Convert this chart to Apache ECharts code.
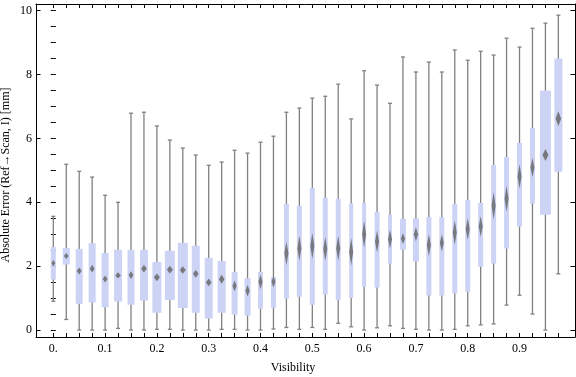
<!DOCTYPE html>
<html>
<head>
<meta charset="utf-8">
<script src="https://cdn.jsdelivr.net/npm/echarts@6/dist/echarts.min.js"></script>
<style>
    html, body { margin: 0; padding: 0; background: #ffffff; }
    #chart { width: 576px; height: 377px; }
</style>
</head>
<body>
<div id="chart"></div>
<script>
// box positions on the Visibility axis (also the tick positions)
const visibility = [0, 0.025, 0.05, 0.075, 0.1, 0.125, 0.15, 0.175, 0.2, 0.225,
    0.25, 0.275, 0.3, 0.325, 0.35, 0.375, 0.4, 0.425, 0.45, 0.475,
    0.5, 0.525, 0.55, 0.575, 0.6, 0.625, 0.65, 0.675, 0.7, 0.725,
    0.75, 0.775, 0.8, 0.825, 0.85, 0.875, 0.9, 0.925, 0.95, 0.975];

const whiskerLow = [0.90, 0.33, 0, 0, 0, 0.05, 0, 0, 0.02, 0.02,
    0, 0, 0, 0.02, 0.02, 0, 0, 0.03, 0.08, 0.02,
    0.08, 0.02, 0.21, 0.10, 0, 0.07, 0.13, 0.05, 0.02, 0,
    0, 0.02, 0.13, 0.16, 0.19, 0.78, 1.09, 0.50, 0, 1.76];

const lowerQuartile = [1.58, 2.05, 0.82, 0.86, 0.71, 0.89, 0.79, 0.92, 0.54, 0.94,
    0.69, 0.54, 0.36, 0.54, 0.48, 0.45, 0.67, 0.70, 0.98, 1.04,
    0.79, 1.11, 0.94, 1.00, 1.35, 1.33, 2.08, 2.52, 2.14, 1.08,
    1.08, 1.15, 1.20, 1.98, 2.08, 2.55, 3.24, 3.96, 3.61, 4.96];

const median = [2.09, 2.32, 1.85, 1.92, 1.60, 1.71, 1.72, 1.92, 1.65, 1.89,
    1.88, 1.76, 1.49, 1.59, 1.38, 1.23, 1.51, 1.51, 2.40, 2.56,
    2.63, 2.54, 2.56, 2.45, 3.00, 2.77, 2.84, 2.86, 3.00, 2.66,
    2.73, 3.05, 3.16, 3.24, 3.89, 4.11, 4.81, 5.09, 5.48, 6.62];

const upperQuartile = [2.60, 2.57, 2.54, 2.72, 2.41, 2.51, 2.51, 2.51, 2.13, 2.48,
    2.73, 2.64, 2.26, 2.16, 1.82, 1.62, 1.82, 1.66, 3.95, 3.89,
    4.45, 4.14, 4.11, 3.97, 3.98, 3.70, 3.61, 3.48, 3.50, 3.54,
    3.54, 3.95, 4.08, 3.98, 5.17, 5.42, 5.86, 6.33, 7.50, 8.50];

const whiskerHigh = [3.56, 5.19, 4.97, 4.79, 4.22, 4.00, 6.79, 6.82, 6.39, 5.95,
    5.70, 5.48, 5.16, 5.26, 5.63, 5.54, 5.88, 6.07, 6.82, 6.95,
    7.26, 7.32, 7.70, 6.61, 8.12, 7.67, 7.10, 8.55, 8.08, 8.39,
    8.08, 8.77, 8.45, 8.73, 8.61, 9.14, 8.86, 9.45, 9.61, 9.86];

// half height of the median diamond (median confidence)
const medianSpread = [0.10, 0.09, 0.11, 0.12, 0.11, 0.10, 0.12, 0.12, 0.12, 0.12,
    0.12, 0.12, 0.12, 0.14, 0.17, 0.18, 0.23, 0.18, 0.37, 0.39,
    0.41, 0.37, 0.39, 0.43, 0.42, 0.34, 0.29, 0.17, 0.22, 0.34,
    0.26, 0.38, 0.34, 0.32, 0.43, 0.41, 0.38, 0.30, 0.19, 0.23];

const xTickLabels = [0, 0.1, 0.2, 0.3, 0.4, 0.5, 0.6, 0.7, 0.8, 0.9];
const yTickLabels = [0, 2, 4, 6, 8, 10];
const yMinorTicks = [0, 0.5, 1, 1.5, 2, 2.5, 3, 3.5, 4, 4.5, 5, 5.5, 6, 6.5, 7, 7.5,
    8, 8.5, 9, 9.5, 10];

// styling
const boxWidthPx = [5, 7, 7, 7, 7, 8, 7, 8, 9, 10, 10, 8, 8, 8, 6, 6, 5, 5, 5, 5,
    5, 5, 5, 4, 4, 5, 4, 6, 6, 5, 5, 5, 5, 5, 5, 5, 5, 5, 11, 8];
const FONT = '"Liberation Serif", "DejaVu Serif", serif';
const BOX_COLOR = '#ccd3f5';
const WHISKER_COLOR = '#808080';
const DIAMOND_COLOR = 'rgba(105,105,105,0.85)';
const frameLine = { color: '#000000', width: 1 };

const chart = echarts.init(document.getElementById('chart'), null, { renderer: 'canvas' });

const boxData = visibility.map((v, i) => [v, whiskerLow[i], lowerQuartile[i], median[i],
    upperQuartile[i], whiskerHigh[i], medianSpread[i]]);

const renderBox = (params, api) => {
    const x = api.value(0);
    const w = boxWidthPx[params.dataIndex];
    const lo = api.coord([x, api.value(1)]);
    const q1 = api.coord([x, api.value(2)]);
    const md = api.coord([x, api.value(3)]);
    const q3 = api.coord([x, api.value(4)]);
    const hi = api.coord([x, api.value(5)]);
    const ciTop = api.coord([x, api.value(3) + api.value(6)]);
    const ciBot = api.coord([x, api.value(3) - api.value(6)]);
    const cx = lo[0];
    const dw = Math.max(4, Math.min(6, w * 0.7));
    const cap = 2;
    const whisker = { stroke: WHISKER_COLOR, lineWidth: 1.3 };
    return {
        type: 'group',
        children: [
            { type: 'line', shape: { x1: cx, y1: lo[1], x2: cx, y2: hi[1] }, style: whisker },
            { type: 'line', shape: { x1: cx - cap, y1: lo[1], x2: cx + cap, y2: lo[1] }, style: whisker },
            { type: 'line', shape: { x1: cx - cap, y1: hi[1], x2: cx + cap, y2: hi[1] }, style: whisker },
            {
                type: 'rect',
                shape: { x: cx - w / 2, y: q3[1], width: w, height: q1[1] - q3[1] },
                style: { fill: BOX_COLOR }
            },
            {
                type: 'polygon',
                shape: {
                    points: [[cx, Math.min(ciTop[1], md[1] - 3)], [cx + dw / 2, md[1]],
                        [cx, Math.max(ciBot[1], md[1] + 3)], [cx - dw / 2, md[1]]]
                },
                style: { fill: DIAMOND_COLOR }
            }
        ]
    };
};

const xMin = -0.0334, xMax = 1.0071;
const yMin = -0.219, yMax = 10.21;

const option = {
    animation: false,
    backgroundColor: '#ffffff',
    grid: { left: 36, right: 1, top: 4, bottom: 40, containLabel: false, outerBoundsMode: 'none' },
    xAxis: [
        {
            type: 'value', position: 'bottom', min: xMin, max: xMax,
            axisLine: { onZero: false, lineStyle: frameLine },
            axisTick: { inside: true, length: 4, customValues: visibility, lineStyle: frameLine },
            axisLabel: {
                customValues: xTickLabels,
                formatter: (v) => (v === 0 ? '0.' : v.toFixed(1)),
                margin: 6, color: '#000000', fontFamily: FONT, fontSize: 12
            },
            splitLine: { show: false }
        },
        {
            type: 'value', position: 'top', min: xMin, max: xMax,
            axisLine: { onZero: false, lineStyle: frameLine },
            axisTick: { inside: true, length: 4, customValues: visibility, lineStyle: frameLine },
            axisLabel: { show: false },
            splitLine: { show: false }
        }
    ],
    yAxis: [
        {
            type: 'value', position: 'left', min: yMin, max: yMax,
            axisLine: { show: true, onZero: false, lineStyle: frameLine },
            axisTick: { inside: true, length: 4.5, customValues: yTickLabels, lineStyle: frameLine },
            axisLabel: { customValues: yTickLabels, margin: 4, color: '#000000', fontFamily: FONT, fontSize: 12 },
            splitLine: { show: false }
        },
        {
            type: 'value', position: 'left', min: yMin, max: yMax,
            axisLine: { show: false },
            axisTick: { inside: true, length: 2.5, customValues: yMinorTicks, lineStyle: frameLine },
            axisLabel: { show: false },
            splitLine: { show: false }
        },
        {
            type: 'value', position: 'right', min: yMin, max: yMax,
            axisLine: { show: true, onZero: false, lineStyle: frameLine },
            axisTick: { inside: true, length: 4.5, customValues: yTickLabels, lineStyle: frameLine },
            axisLabel: { show: false },
            splitLine: { show: false }
        },
        {
            type: 'value', position: 'right', min: yMin, max: yMax,
            axisLine: { show: false },
            axisTick: { inside: true, length: 2.5, customValues: yMinorTicks, lineStyle: frameLine },
            axisLabel: { show: false },
            splitLine: { show: false }
        }
    ],
    graphic: [
        {
            type: 'text', x: 6, y: 175, rotation: Math.PI / 2,
            style: {
                text: 'Absolute Error (Ref\u2192Scan, I) [mm]',
                fill: '#000000', font: '12px ' + FONT,
                align: 'center', verticalAlign: 'middle'
            }
        },
        {
            type: 'text', x: 293, y: 368,
            style: {
                text: 'Visibility', fill: '#000000', font: '12px ' + FONT,
                align: 'center', verticalAlign: 'middle'
            }
        }
    ],
    series: [
        {
            type: 'custom',
            xAxisIndex: 0,
            yAxisIndex: 0,
            renderItem: renderBox,
            encode: { x: 0, y: [1, 2, 3, 4, 5] },
            data: boxData,
            clip: true
        }
    ]
};

chart.setOption(option);
</script>
</body>
</html>
